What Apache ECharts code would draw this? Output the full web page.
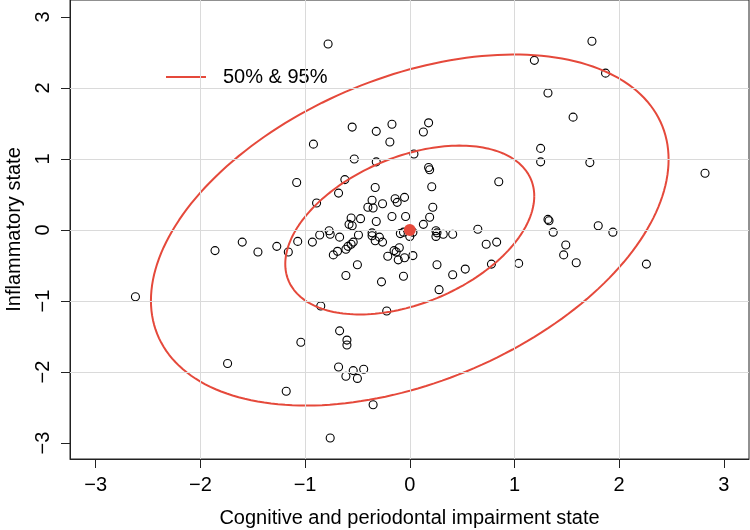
<!DOCTYPE html>
<html>
<head>
<meta charset="utf-8">
<script src="https://cdn.jsdelivr.net/npm/echarts@6/dist/echarts.min.js"></script>
<style>html,body{margin:0;padding:0;background:#fff}#c{width:750px;height:530px}</style>
</head>
<body>
<div id="c"></div>
<script>
// ---- data ----
var xTicks = [-3, -2, -1, 0, 1, 2, 3];
var yTicks = [-3, -2, -1, 0, 1, 2, 3];
var gridX = [-2, -1, 0, 1, 2];
var gridY = [-2, -1, 0, 1, 2];
var xTitle = 'Cognitive and periodontal impairment state';
var yTitle = 'Inflammatory state';
var legendLabel = '50% & 95%';
var centre = [0, 0];
// covariance of the bivariate normal: [var x, cov xy, var y]
var covariance = [1.02, 0.41, 1.02];
// chi-square (2 df) quantiles for 50% and 95%
var chiLevels = [1.386, 5.991];
var pointsX = [-0.78,1.74,1.19,1.87,1.32,1.56,1.25,1.25,1.72,2.82,-0.55,-0.32,-0.17,-0.19,-0.92,-0.53,-0.32,0.13,0.18,0.04,0.18,0.19,-1.08,-0.62,0.85,
  -0.33,0.21,-0.68,-0.89,-0.36,-0.14,-0.05,-0.12,-0.26,-0.40,-0.35,0.22,0.19,-0.04,-0.17,-0.56,-0.47,-0.58,-0.55,-0.32,0.13,0.65,-0.77,-0.76,-0.86,-1.07,-0.93,-0.67,-0.49,-0.36,-0.36,-0.29,-0.33,-0.26,-0.09,-0.06,0.03,0.00,0.25,0.26,0.25,0.32,0.41,0.73,0.83,0.78,-1.45,-1.27,-1.16,-0.54,-0.56,-0.59,-0.61,-0.69,-0.73,-0.50,-0.61,-0.21,-0.15,-0.13,-0.10,-0.11,-0.05,0.03,-0.27,-0.06,0.26,0.41,0.53,0.28,-0.85,-0.22,-0.67,-1.04,-0.60,-0.60,
  -2.62,-1.86,-1.60,-1.74,-0.68,-0.61,-0.54,-0.50,-0.44,-1.18,-0.35,-0.76,1.32,1.33,1.37,1.80,1.94,1.49,1.47,1.59,1.04,2.26];
var pointsY = [2.62,2.66,2.39,2.21,1.93,1.59,1.15,0.96,0.95,0.80,1.45,1.39,1.49,1.24,1.21,1.00,0.96,1.38,1.51,1.07,0.88,0.85,0.67,0.71,0.68,
  0.60,0.61,0.52,0.38,0.42,0.44,0.46,0.39,0.37,0.32,0.31,0.32,0.18,0.19,0.19,0.17,0.16,0.08,0.06,0.12,0.08,0.01,-0.01,-0.06,-0.07,-0.16,-0.17,-0.10,-0.07,-0.04,-0.08,-0.10,-0.15,-0.17,-0.05,-0.03,-0.03,-0.09,-0.01,-0.04,-0.09,-0.06,-0.06,-0.20,-0.17,-0.48,-0.31,-0.23,-0.31,-0.17,-0.20,-0.23,-0.27,-0.30,-0.35,-0.49,-0.64,-0.37,-0.29,-0.31,-0.25,-0.42,-0.39,-0.36,-0.73,-0.65,-0.49,-0.63,-0.55,-0.84,-1.07,-1.14,-1.42,-1.58,-1.55,-1.62,
  -0.94,-0.29,-0.17,-1.88,-1.93,-2.06,-1.98,-2.09,-1.96,-2.27,-2.46,-2.93,0.15,0.13,-0.03,0.06,-0.03,-0.21,-0.35,-0.46,-0.47,-0.48];

// ---- build ----
var points = pointsX.map(function (x, i) { return [x, pointsY[i]]; });
function ellipse(c2) {
  var sx = Math.sqrt(covariance[0]), sy = Math.sqrt(covariance[2]);
  var rho = covariance[1] / (sx * sy), r = Math.sqrt(c2), out = [];
  for (var k = 0; k <= 200; k++) {
    var t = 2 * Math.PI * k / 200;
    out.push([centre[0] + r * sx * Math.cos(t),
              centre[1] + r * sy * (rho * Math.cos(t) + Math.sqrt(1 - rho * rho) * Math.sin(t))]);
  }
  return out;
}
function fmt(v) { return v < 0 ? '\u2212' + Math.abs(v) : String(v); }
var RED = '#e5493b';
var FONT = 'Liberation Sans, Arial, sans-serif';
var chart = echarts.init(document.getElementById('c'), null, { renderer: 'canvas' });
var gridLines = gridX.map(function (v) { return { xAxis: v }; })
  .concat(gridY.map(function (v) { return { yAxis: v }; }));
chart.setOption({
  animation: false,
  textStyle: { fontFamily: FONT },
  grid: { left: 70, right: 1, top: 0, bottom: 71, show: true, borderColor: '#222', borderWidth: 1,
    backgroundColor: 'transparent', containLabel: false, outerBoundsMode: 'none' },
  legend: {
    data: [{ name: legendLabel, icon: 'rect' }], left: 166, top: 67, padding: 0,
    itemWidth: 40, itemHeight: 2,
    itemStyle: { color: RED, borderWidth: 0 },
    textStyle: { fontSize: 20, color: '#000', fontFamily: FONT, padding: [0, 0, 0, 12] }
  },
  xAxis: {
    type: 'value', min: -3.245, max: 3.24,
    name: xTitle, nameLocation: 'middle', nameGap: 49,
    nameTextStyle: { fontSize: 20, color: '#000', fontFamily: FONT },
    axisLine: { show: true, onZero: false, lineStyle: { color: '#222', width: 1 } },
    axisTick: { show: true, length: 9, customValues: xTicks, lineStyle: { color: '#222', width: 1 } },
    axisLabel: { customValues: xTicks, formatter: fmt, fontSize: 20, color: '#000', margin: 16, fontFamily: FONT },
    splitLine: { show: false }
  },
  yAxis: {
    type: 'value', min: -3.225, max: 3.24,
    name: yTitle, nameLocation: 'middle', nameGap: 46,
    nameTextStyle: { fontSize: 20, color: '#000', fontFamily: FONT },
    axisLine: { show: true, onZero: false, lineStyle: { color: '#222', width: 1 } },
    axisTick: { show: true, length: 9, customValues: yTicks, lineStyle: { color: '#222', width: 1 } },
    axisLabel: { customValues: yTicks, formatter: fmt, fontSize: 20, color: '#000', margin: 17, rotate: 90, fontFamily: FONT },
    splitLine: { show: false }
  },
  series: [
    {
      type: 'line', data: [], silent: true, z: 1,
      markLine: { silent: true, symbol: 'none', label: { show: false },
        lineStyle: { color: '#dadada', width: 1, type: 'solid' }, emphasis: { disabled: true }, data: gridLines }
    },
    {
      type: 'scatter', data: points, symbol: 'circle', symbolSize: 8, z: 3,
      itemStyle: { color: 'rgba(0,0,0,0)', borderColor: '#000', borderWidth: 1.1, opacity: 1 }
    },
    {
      name: legendLabel, type: 'line', data: ellipse(chiLevels[0]), showSymbol: false, symbol: 'none', z: 4,
      lineStyle: { color: RED, width: 2 }, itemStyle: { color: RED }
    },
    {
      name: legendLabel, type: 'line', data: ellipse(chiLevels[1]), showSymbol: false, symbol: 'none', z: 4,
      lineStyle: { color: RED, width: 2 }, itemStyle: { color: RED }
    },
    {
      type: 'scatter', data: [centre], symbolSize: 12, z: 5,
      itemStyle: { color: RED, opacity: 1 }
    }
  ]
});
</script>
</body>
</html>
